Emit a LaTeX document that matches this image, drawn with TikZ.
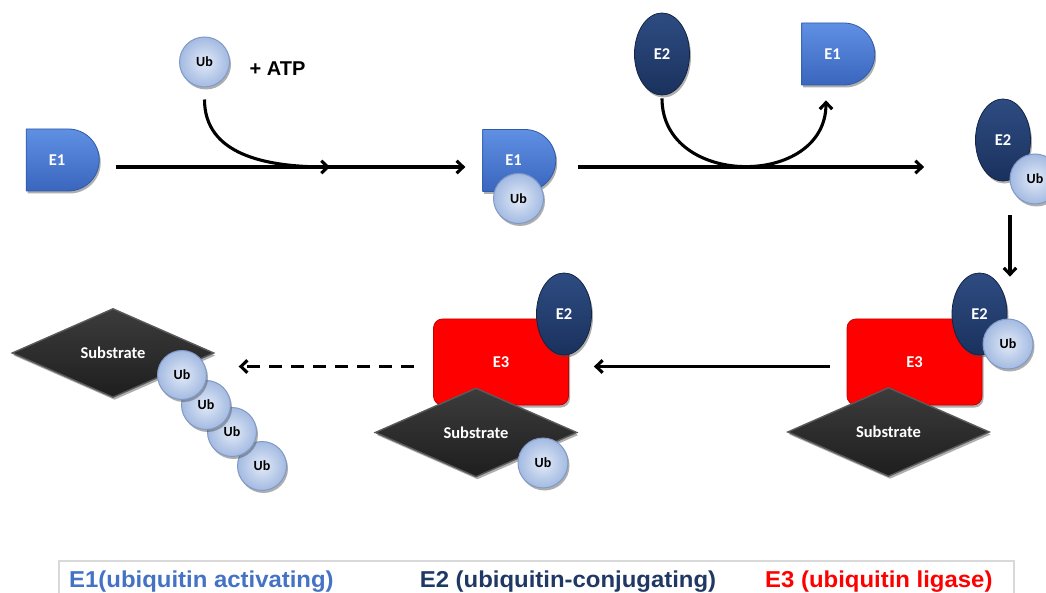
\documentclass[tikz,border=0pt]{standalone}
\usepackage{fontspec}
\newfontfamily\lblfont{Carlito}
\newfontfamily\arialfont{Liberation Sans}
\usetikzlibrary{shapes.geometric,shapes.misc,shadows,arrows.meta}

\definecolor{EoneTop}{HTML}{5F90E4}
\definecolor{EoneBot}{HTML}{3A66BD}
\definecolor{EoneEdge}{HTML}{2F5AA8}
\definecolor{EtwoTop}{HTML}{2E4C82}
\definecolor{EtwoBot}{HTML}{1A315D}
\definecolor{EtwoEdge}{HTML}{132544}
\definecolor{EthreeFill}{HTML}{FF0000}
\definecolor{EthreeEdge}{HTML}{C80000}
\definecolor{SubTop}{HTML}{3C3C3C}
\definecolor{SubBot}{HTML}{1E1E1E}
\definecolor{SubEdge}{HTML}{5A5A5A}
\definecolor{UbIn}{HTML}{E2EAF8}
\definecolor{UbOut}{HTML}{A3BAE1}
\definecolor{UbEdge}{HTML}{8099C6}
\definecolor{LegBorder}{HTML}{D9D9D9}
\definecolor{LegOne}{HTML}{4472C4}
\definecolor{LegTwo}{HTML}{1F3864}
\definecolor{LegThree}{HTML}{FF0000}

\begin{document}
\begin{tikzpicture}[x=1pt,y=-1pt,
  soft/.style={drop shadow={opacity=0.45,fill=black!70,shadow xshift=1.5pt,shadow yshift=-2.5pt}},
  lbl/.style={font=\lblfont\bfseries\fontsize{16.5}{19}\selectfont,text=white},
  eone/.style={rounded rectangle,rounded rectangle left arc=none,
    minimum width=73pt,minimum height=62pt,inner sep=0pt,
    top color=EoneTop,bottom color=EoneBot,draw=EoneEdge,line width=0.8pt,soft,lbl},
  etwo/.style={ellipse,minimum width=55pt,minimum height=82pt,inner sep=0pt,
    top color=EtwoTop,bottom color=EtwoBot,draw=EtwoEdge,line width=0.8pt,soft,lbl},
  ethree/.style={rectangle,rounded corners=9pt,minimum width=135pt,minimum height=86pt,
    inner sep=0pt,fill=EthreeFill,draw=EthreeEdge,line width=0.8pt,soft,lbl},
  substrate/.style={diamond,aspect=2.25,minimum width=202pt,minimum height=89pt,inner sep=0pt,
    top color=SubTop,bottom color=SubBot,draw=SubEdge,line width=1.4pt,soft,lbl,
    font=\lblfont\bfseries\fontsize{16.5}{19}\selectfont},
  ub/.style={circle,minimum size=50pt,inner sep=0pt,shading=radial,
    inner color=UbIn,outer color=UbOut,draw=UbEdge,line width=1pt,soft,
    font=\lblfont\bfseries\fontsize{14}{16}\selectfont,text=black},
  arr/.style={line width=3.1pt,-{Straight Barb[length=6.5pt,width=12.5pt]}},
  legend/.style={rectangle,draw=LegBorder,line width=1.2pt,minimum width=955pt,minimum height=42pt,inner sep=0pt},
  leg/.style={font=\arialfont\bfseries\fontsize{23}{26}\selectfont,inner sep=0pt},
]
\useasboundingbox (0,0) rectangle (1046,593);

% step 1: E1 activates ubiquitin
\node[eone] (e1a) at (62.5,160) {E1\hspace*{11pt}};
\node[ub] (uba) at (204.5,62) {Ub};
\node[font=\arialfont\bfseries\fontsize{20}{22}\selectfont] (atp) at (277.5,69) {+ ATP};
\coordinate (join1) at (330,167);

% step 2: E1 carrying Ub
\node[eone] (e1b) at (519,160.5) {E1\hspace*{11pt}};
\node[ub] (ubm) at (518.5,198.5) {Ub};

% transfer to E2
\node[etwo] (e2a) at (662,54) {E2};
\node[eone] (e1c) at (838,54) {E1\hspace*{11pt}};

% E2 carrying Ub
\node[etwo] (e2b) at (1003,140) {E2};
\node[ub] (ubr) at (1035,179) {Ub};

% E3 complex with E2~Ub and substrate
\node[ethree] (e3r) at (914.5,362) {E3};
\node[substrate] (subr) at (888.5,432) {Substrate};
\node[etwo] (e2r) at (979.5,314) {E2};
\node[ub] (ubr2) at (1008,344) {Ub};

% Ub handed over to the substrate
\node[ethree] (e3m) at (501,362) {E3};
\node[etwo] (e2m) at (564,314) {E2};
\node[substrate] (subm) at (476,432.5) {Substrate};
\node[ub] (ubs) at (543,463) {Ub};

% polyubiquitinated substrate
\node[substrate] (subl) at (113,353) {Substrate};
\node[ub,minimum size=49pt] (ch4) at (262,466) {Ub};
\node[ub,minimum size=49pt] (ch3) at (232,432) {Ub};
\node[ub,minimum size=49pt] (ch2) at (206,405) {Ub};
\node[ub,minimum size=49pt] (ch1) at (182,375) {Ub};

% reaction arrows
\draw[arr] ([shift={(16,7)}]e1a.east) -- ([shift={(-17,6.5)}]e1b.west);
\draw[arr] ([shift={(0,12)}]uba.south) .. controls +(0,55) and +(-65,0) .. (join1);
\draw[arr] ([shift={(22,6.5)}]e1b.east) -- ([shift={(-51,27)}]e2b.west);
\draw[arr] ([shift={(0,3)}]e2a.south) .. controls +(0,90) and +(0,88) .. ([shift={(-12,15)}]e1c.south);
\draw[arr] ([shift={(-25,11)}]ubr.south) -- ([shift={(30.5,4)}]e2r.north);
\draw[arr] ([shift={(-17,4.5)}]e3r.west) -- ([shift={(25,4.5)}]e3m.east);
\draw[arr,dash pattern=on 13pt off 9pt] ([shift={(-19,4.5)}]e3m.west) -- ([shift={(24,13.5)}]subl.east);

% legend
\node[legend] (legbox) at (536.5,582) {};
\node[leg,text=LegOne,anchor=base west] (legone) at (69,587) {\scalebox{1.04}[1]{E1(ubiquitin activating)}};
\node[leg,text=LegTwo,anchor=base] (legtwo) at (568,587) {\scalebox{1.04}[1]{E2 (ubiquitin-conjugating)}};
\node[leg,text=LegThree,anchor=base west] (legthree) at (765,587) {\scalebox{1.04}[1]{E3 (ubiquitin ligase)}};
\end{tikzpicture}
\end{document}
